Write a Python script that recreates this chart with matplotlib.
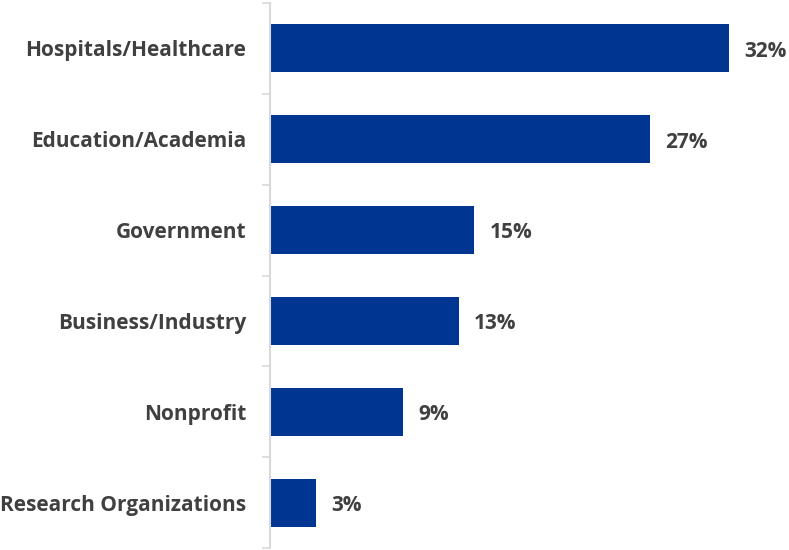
import matplotlib
matplotlib.use("Agg")
import matplotlib.pyplot as plt

categories = ["Hospitals/Healthcare", "Education/Academia", "Government",
              "Business/Industry", "Nonprofit", "Research Organizations"]
values = [32.0, 26.5, 14.2, 13.1, 9.2, 3.1]
value_labels = ["32%", "27%", "15%", "13%", "9%", "3%"]

plt.rcParams['font.family'] = ['Open Sans', 'DejaVu Sans']
text_color = "#404040"
bar_color = "#003591"
axis_color = "#d9d9d9"

fig = plt.figure(figsize=(7.89, 5.50), dpi=100)
ax = fig.add_axes([270/789, 2/550, 519/789, 545/550])

y = list(range(len(categories)))
ax.barh(y, values, height=0.53, color=bar_color, left=0.1)
ax.set_ylim(len(categories) - 0.5, -0.5)
ax.set_xlim(0, 36.3)

for yi, v, lab in zip(y, values, value_labels):
    ax.annotate(lab, xy=(v + 0.1, yi), xytext=(11, -2), textcoords="offset points",
                ha="left", va="center", fontsize=15, fontweight="bold",
                color=text_color)

ax.set_yticks(y)
ax.set_yticklabels(categories, fontsize=15, fontweight="bold", color=text_color)
ax.set_yticks([i - 0.5 for i in range(len(categories) + 1)], minor=True)
ax.tick_params(axis="y", which="major", length=0, pad=17)
ax.tick_params(axis="y", which="minor", length=6, width=1.2, color=axis_color)
ax.set_xticks([])
for s in ["top", "right", "bottom"]:
    ax.spines[s].set_visible(False)
ax.spines["left"].set_color(axis_color)
ax.spines["left"].set_linewidth(1.5)

fig.savefig("out.png", dpi=100)
